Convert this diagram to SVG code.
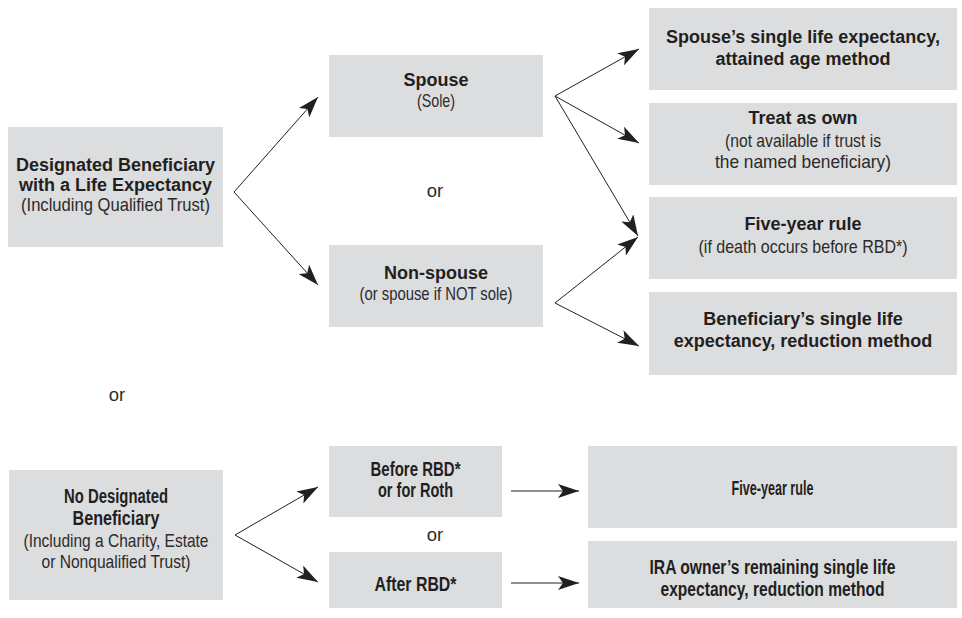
<svg xmlns="http://www.w3.org/2000/svg" width="962" height="618" viewBox="0 0 962 618">
<defs>
<style>
.box{fill:#dcdddf;}
.b{font-family:"Liberation Sans",Arial,sans-serif;font-weight:bold;font-size:18px;fill:#231f20;text-anchor:middle;}
.bc{font-family:"Liberation Sans",Arial,sans-serif;font-weight:bold;font-size:19.5px;fill:#231f20;text-anchor:middle;}
.s{font-family:"Liberation Sans",Arial,sans-serif;font-size:18.5px;fill:#2b2b2b;text-anchor:middle;}
.c{stroke:#231f20;stroke-width:1;fill:none;marker-end:url(#ah);}
</style>
<marker id="ah" markerUnits="userSpaceOnUse" markerWidth="22" markerHeight="14" refX="21" refY="7" orient="auto">
<path d="M0,0 L21,7 L0,14 L5,7 Z" fill="#231f20"/>
</marker>
</defs>
<rect width="962" height="618" fill="#ffffff"/>

<g id="designated">
<rect class="box" x="8" y="127" width="215" height="120"/>
<text class="b" x="115.5" y="171">Designated Beneficiary</text>
<text class="b" x="115.5" y="191">with a Life Expectancy</text>
<text class="s" x="115.5" y="211" textLength="189" lengthAdjust="spacingAndGlyphs">(Including Qualified Trust)</text>
</g>

<g id="spouse">
<rect class="box" x="329" y="55" width="214" height="82"/>
<text class="b" x="436" y="86">Spouse</text>
<text class="s" x="436" y="107" textLength="38" lengthAdjust="spacingAndGlyphs">(Sole)</text>
</g>

<g id="nonspouse">
<rect class="box" x="329" y="245" width="214" height="82"/>
<text class="b" x="436" y="279">Non-spouse</text>
<text class="s" x="436" y="300" textLength="153" lengthAdjust="spacingAndGlyphs">(or spouse if NOT sole)</text>
</g>

<g id="spouse-le">
<rect class="box" x="649" y="8" width="308" height="82"/>
<text class="b" x="803" y="43">Spouse’s single life expectancy,</text>
<text class="b" x="803" y="65">attained age method</text>
</g>

<g id="treat-own">
<rect class="box" x="649" y="103" width="308" height="82"/>
<text class="b" x="803" y="124">Treat as own</text>
<text class="s" x="803" y="147" textLength="156" lengthAdjust="spacingAndGlyphs">(not available if trust is</text>
<text class="s" x="803" y="168" textLength="176" lengthAdjust="spacingAndGlyphs">the named beneficiary)</text>
</g>

<g id="five-year-1">
<rect class="box" x="649" y="197" width="308" height="82"/>
<text class="b" x="803" y="230">Five-year rule</text>
<text class="s" x="803" y="253" textLength="209" lengthAdjust="spacingAndGlyphs">(if death occurs before RBD*)</text>
</g>

<g id="benef-le">
<rect class="box" x="649" y="292" width="308" height="83"/>
<text class="b" x="803" y="325">Beneficiary’s single life</text>
<text class="b" x="803" y="347">expectancy, reduction method</text>
</g>

<g id="no-designated">
<rect class="box" x="9" y="470" width="214" height="130"/>
<text class="bc" x="116" y="503" textLength="104" lengthAdjust="spacingAndGlyphs">No Designated</text>
<text class="bc" x="116" y="525" textLength="87" lengthAdjust="spacingAndGlyphs">Beneficiary</text>
<text class="s" x="116" y="547" textLength="185" lengthAdjust="spacingAndGlyphs">(Including a Charity, Estate</text>
<text class="s" x="116" y="568" textLength="149" lengthAdjust="spacingAndGlyphs">or Nonqualified Trust)</text>
</g>

<g id="before-rbd">
<rect class="box" x="329" y="446" width="173" height="71"/>
<text class="bc" x="415.5" y="476" textLength="90" lengthAdjust="spacingAndGlyphs">Before RBD*</text>
<text class="bc" x="415.5" y="497" textLength="75" lengthAdjust="spacingAndGlyphs">or for Roth</text>
</g>

<g id="after-rbd">
<rect class="box" x="329" y="552" width="173" height="56"/>
<text class="bc" x="415.5" y="591" textLength="82" lengthAdjust="spacingAndGlyphs">After RBD*</text>
</g>

<g id="five-year-2">
<rect class="box" x="588" y="446" width="369" height="82"/>
<text class="bc" x="772.5" y="495" textLength="82" lengthAdjust="spacingAndGlyphs">Five-year rule</text>
</g>

<g id="ira-owner">
<rect class="box" x="588" y="541" width="369" height="67"/>
<text class="bc" x="772.5" y="574" textLength="246" lengthAdjust="spacingAndGlyphs">IRA owner’s remaining single life</text>
<text class="bc" x="772.5" y="596" textLength="224" lengthAdjust="spacingAndGlyphs">expectancy, reduction method</text>
</g>

<g id="or-labels">
<text class="s" x="435" y="197">or</text>
<text class="s" x="117" y="401">or</text>
<text class="s" x="435" y="541">or</text>
</g>

<g id="connectors">
<path class="c" d="M234,192 L318,97"/>
<path class="c" d="M234,192 L318,285"/>
<path class="c" d="M555,96 L639,49"/>
<path class="c" d="M555,96 L639,143"/>
<path class="c" d="M555,96 L638,236"/>
<path class="c" d="M555,303 L638,237"/>
<path class="c" d="M555,303 L639,346"/>
<path class="c" d="M235,535 L318,487"/>
<path class="c" d="M235,535 L318,582"/>
<path class="c" d="M511,491 L579,491"/>
<path class="c" d="M511,583 L579,583"/>
</g>
</svg>
